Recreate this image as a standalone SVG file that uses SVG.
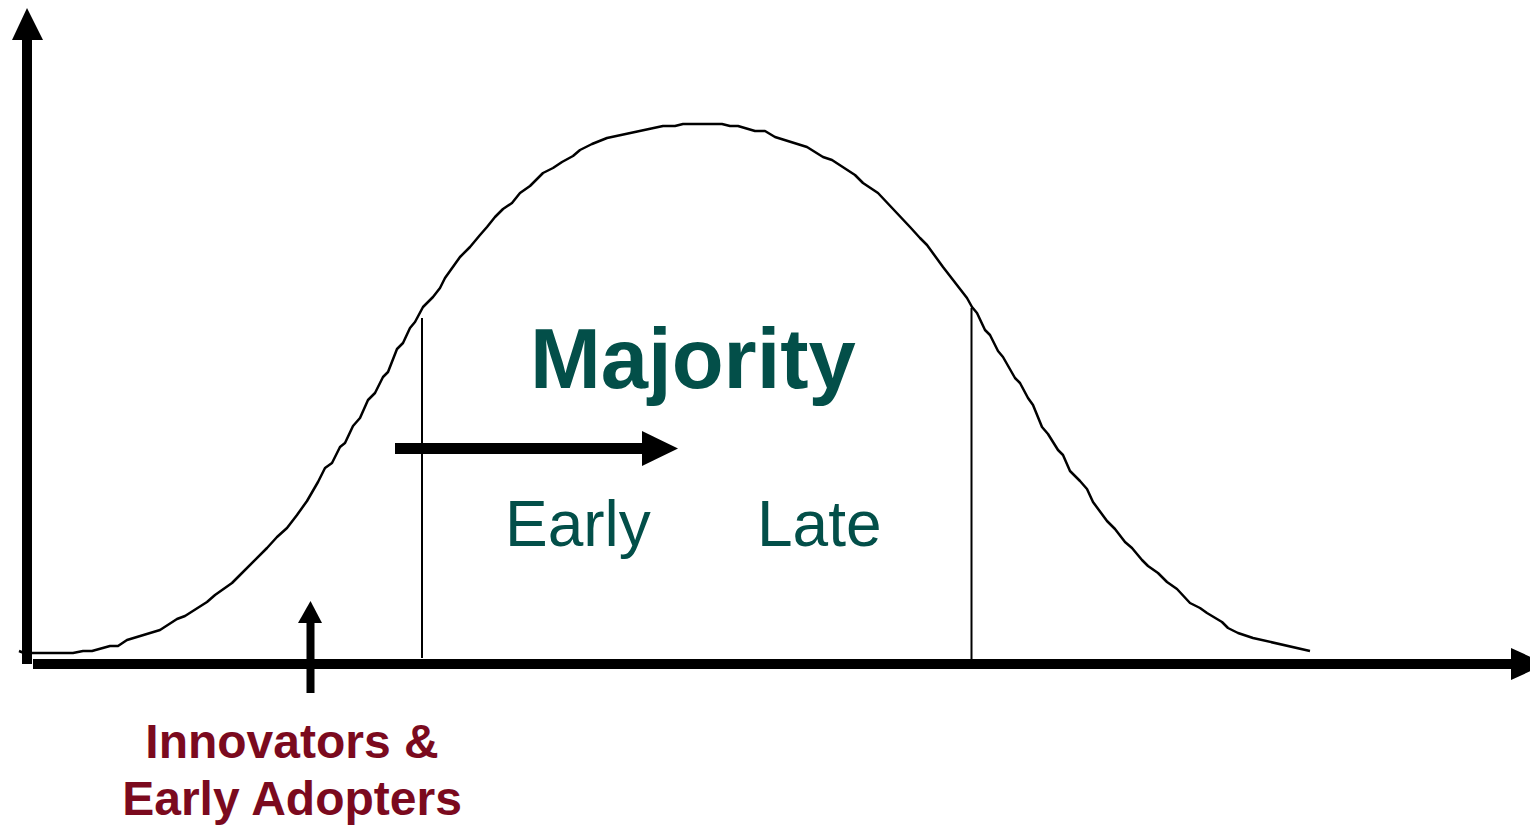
<svg xmlns="http://www.w3.org/2000/svg" width="1530" height="825" viewBox="0 0 1530 825">
<style>
.curve{fill:none;stroke:#000;stroke-width:2.5;stroke-linejoin:round}
.thin{stroke:#000;stroke-width:2;fill:none}
.solid{fill:#000;stroke:none}
.green{font-family:"Liberation Sans",Arial,sans-serif;fill:#034f49}
.red{font-family:"Liberation Sans",Arial,sans-serif;font-weight:bold;fill:#7b0a1e;font-size:48px;text-anchor:middle}
</style>
<rect width="1530" height="825" fill="#fff"/>
<g id="connectors">
  <g id="y-axis">
    <rect class="solid" x="22" y="38" width="10" height="626"/>
    <polygon class="solid" points="27,8 43,40 12,40"/>
  </g>
  <g id="x-axis">
    <rect class="solid" x="33" y="659" width="1480" height="10"/>
    <polygon class="solid" points="1511,648 1546,664 1511,680"/>
  </g>
  <line id="divider-left" class="thin" x1="422" y1="318" x2="422" y2="658"/>
  <line id="divider-right" class="thin" x1="971.5" y1="308" x2="971.5" y2="660"/>
  <g id="innovators-arrow">
    <rect class="solid" x="306.5" y="620" width="8" height="73"/>
    <polygon class="solid" points="310.5,601 322,623 298,623"/>
  </g>
  <g id="majority-arrow">
    <rect class="solid" x="395" y="443" width="249" height="11"/>
    <polygon class="solid" points="642,431 678,448.5 642,466"/>
  </g>
</g>
<g id="adoption-curve">
  <path class="curve" d="M19,651 L24,653 L73,653 L83,651 L92,651 L110,646 L118,646 L127,640 L160,630 L177,619 L185,616 L207,602 L215,595 L232,583 L240,575 L267,548 L277,537 L287,528 L297,515 L307,501 L318,482 L325,468 L332,463 L340,447 L345,443 L353,426 L360,418 L368,400 L375,393 L383,377 L388,372 L397,349 L403,343 L410,328 L415,322 L423,307 L433,297 L440,288 L445,278 L460,257 L470,247 L480,235 L487,227 L495,217 L503,209 L512,203 L520,193 L530,186 L543,173 L553,168 L562,162 L573,156 L580,150 L592,144 L607,138 L663,126 L675,126 L683,124 L722,124 L730,126 L738,126 L755,131 L765,131 L775,137 L807,147 L823,157 L832,160 L855,175 L863,183 L878,193 L910,227 L920,238 L927,245 L943,267 L967,298 L972,307 L977,313 L985,330 L990,335 L998,351 L1003,357 L1015,378 L1020,383 L1028,398 L1033,405 L1042,427 L1048,434 L1058,450 L1063,455 L1070,471 L1080,481 L1087,489 L1093,502 L1107,521 L1115,529 L1125,542 L1132,548 L1142,560 L1148,566 L1158,573 L1167,582 L1177,589 L1190,603 L1200,608 L1207,613 L1222,622 L1228,628 L1238,633 L1253,638 L1310,651"/>
</g>
<g id="label-majority">
  <text class="green" x="530" y="388" font-size="85" font-weight="bold">Majority</text>
</g>
<g id="label-early">
  <text class="green" x="505" y="546" font-size="64">Early</text>
</g>
<g id="label-late">
  <text class="green" x="757" y="546" font-size="64">Late</text>
</g>
<g id="label-innovators">
  <text class="red" x="292" y="758">Innovators &amp;</text>
  <text class="red" x="292" y="815">Early Adopters</text>
</g>
</svg>
